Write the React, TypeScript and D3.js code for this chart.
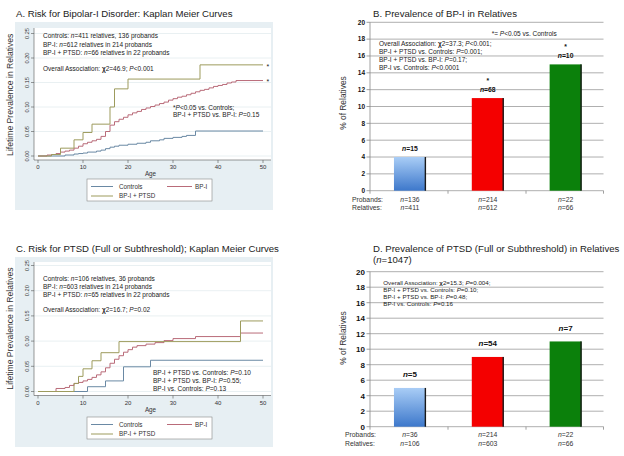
import React from 'react';
import * as d3 from 'd3';

const FONT = "'Liberation Sans', Arial, Helvetica, sans-serif";

const groups = ['Controls', 'BP-I', 'BP-I + PTSD'];
const groupColors = ['#6a89a4', '#b96b79', '#9d9b5d'];

const ageTicks = [0, 10, 20, 30, 40, 50];
const prevTicks = [0, 0.05, 0.1, 0.15, 0.2, 0.25];

// Panel A: Kaplan-Meier (age, cumulative prevalence)
const kmAControls: [number, number][] = [
  [0, 0], [6, 0.002], [8, 0.004], [9, 0.005], [10, 0.006], [11, 0.008], [13, 0.01], [14, 0.012],
  [15, 0.015], [16, 0.018], [17, 0.02], [18, 0.022], [20, 0.024], [22, 0.026], [24, 0.028],
  [25, 0.031], [27, 0.033], [28, 0.036], [30, 0.038], [32, 0.04], [33, 0.042], [35, 0.051], [50, 0.051],
];
const kmABP: [number, number][] = [
  [0, 0], [2, 0.002], [3, 0.003], [4, 0.005], [5, 0.008], [6, 0.01], [7, 0.012], [8, 0.016],
  [9, 0.02], [10, 0.025], [11, 0.028], [12, 0.031], [13, 0.034], [14, 0.04], [15, 0.05],
  [16, 0.063], [17, 0.07], [18, 0.075], [19, 0.079], [20, 0.084], [21, 0.088], [22, 0.091],
  [23, 0.095], [24, 0.098], [25, 0.101], [26, 0.104], [27, 0.107], [28, 0.11], [29, 0.114],
  [30, 0.117], [31, 0.12], [32, 0.122], [33, 0.125], [34, 0.128], [35, 0.131], [36, 0.134],
  [37, 0.136], [38, 0.139], [39, 0.142], [40, 0.144], [41, 0.146], [42, 0.149], [43, 0.151],
  [44, 0.154], [50, 0.154],
];
const kmABPPTSD: [number, number][] = [
  [0, 0], [3, 0.003], [5, 0.016], [8, 0.033], [10, 0.048], [12, 0.065], [16, 0.1],
  [17, 0.137], [20, 0.157], [36, 0.186], [50, 0.186],
];

// Panel C: Kaplan-Meier
const kmCControls: [number, number][] = [
  [0, 0], [11, 0.0095], [15, 0.021], [19, 0.049], [25, 0.062], [50, 0.062],
];
const kmCBP: [number, number][] = [
  [0, 0], [4, 0.006], [6, 0.008], [7, 0.012], [8, 0.016], [9, 0.018], [10, 0.021], [11, 0.024],
  [12, 0.028], [13, 0.033], [14, 0.039], [15, 0.047], [16, 0.056], [17, 0.064], [18, 0.071],
  [19, 0.078], [20, 0.083], [21, 0.088], [22, 0.091], [24, 0.094], [26, 0.097], [28, 0.101],
  [30, 0.105], [35, 0.109], [45, 0.116], [50, 0.116],
];
const kmCBPPTSD: [number, number][] = [
  [0, 0], [8, 0.016], [9, 0.03], [10, 0.045], [12, 0.061], [14, 0.077], [18, 0.099],
  [45, 0.14], [50, 0.14],
];

// Bar panels
const barTicks = [0, 2, 4, 6, 8, 10, 12, 14, 16, 18, 20];
const barBValues = [4, 11, 15];
const barBCounts = ['n=15', 'n=68', 'n=10'];
const barBStars = ['', '*', '*'];
const barBProbands = ['n=136', 'n=214', 'n=22'];
const barBRelatives = ['n=411', 'n=612', 'n=66'];
const barDValues = [5, 9, 11];
const barDCounts = ['n=5', 'n=54', 'n=7'];
const barDStars = ['', '', ''];
const barDProbands = ['n=36', 'n=214', 'n=22'];
const barDRelatives = ['n=106', 'n=603', 'n=66'];

type Note = { x: number; y: number; text: string; size?: number; anchor?: string; weight?: string };

function Rich({ x, y, text, size = 6.5, anchor = 'start', weight = 'normal', fill = '#222' }: any) {
  const parts = text.split(/(\bn(?==)|\bP(?=[=<])|χ)/).filter((p: string) => p !== '');
  return (
    <text x={x} y={y} fontSize={size} fontFamily={FONT} textAnchor={anchor} fontWeight={weight} fill={fill} style={{ whiteSpace: 'pre' }}>
      {parts.map((p: string, i: number) =>
        p === 'n' || p === 'P' ? (
          <tspan key={i} fontStyle="italic">{p}</tspan>
        ) : p === 'χ' ? (
          <tspan key={i} fontWeight="bold">{p}</tspan>
        ) : (
          <tspan key={i}>{p}</tspan>
        )
      )}
    </text>
  );
}

function KMPanel({ title, titleY, bgTop, bgBottom, plotTop, axisY, y0, y1, legendTop, series, notes }: any) {
  const x = d3.scaleLinear().domain([0, 50]).range([38, 263]);
  const y = d3.scaleLinear().domain([0, 0.25]).range([y0, y1]);
  const line = d3.line<[number, number]>().x((d) => x(d[0])).y((d) => y(d[1])).curve(d3.curveStepAfter);
  const fmt = d3.format('.2f');
  const lx = 34;
  const rx = 271;
  return (
    <g>
      <text x={16} y={titleY} fontSize={9.6} fontFamily={FONT} fill="#222">{title}</text>
      <rect x={15} y={bgTop} width={258} height={bgBottom - bgTop} fill="#e7eff3" />
      <rect x={lx} y={plotTop} width={rx - lx} height={axisY - plotTop} fill="#fff" />
      {prevTicks.map((t) => (
        <line key={t} x1={lx} x2={rx} y1={y(t)} y2={y(t)} stroke="#e3ecef" strokeWidth={0.8} />
      ))}
      <line x1={lx} x2={lx} y1={plotTop} y2={axisY} stroke="#555" strokeWidth={0.6} />
      <line x1={lx} x2={rx} y1={axisY} y2={axisY} stroke="#555" strokeWidth={0.6} />
      {prevTicks.map((t) => (
        <g key={t}>
          <line x1={lx - 3} x2={lx} y1={y(t)} y2={y(t)} stroke="#555" strokeWidth={0.6} />
          <text transform={`translate(28.5,${y(t)}) rotate(-90)`} fontSize={5.6} fontFamily={FONT} textAnchor="middle" fill="#333">{fmt(t)}</text>
        </g>
      ))}
      {ageTicks.map((t) => (
        <g key={t}>
          <line x1={x(t)} x2={x(t)} y1={axisY} y2={axisY + 3} stroke="#555" strokeWidth={0.6} />
          <text x={x(t)} y={axisY + 9} fontSize={6} fontFamily={FONT} textAnchor="middle" fill="#333">{t}</text>
        </g>
      ))}
      <text x={(x(0) + x(50)) / 2} y={axisY + 16} fontSize={6.3} fontFamily={FONT} textAnchor="middle" fill="#333">Age</text>
      <text transform={`translate(12.5,${(y0 + y1) / 2}) rotate(-90)`} fontSize={8.6} fontFamily={FONT} textAnchor="middle" fill="#333">Lifetime Prevalence in Relatives</text>
      {series.map((s: [number, number][], i: number) => (
        <path key={i} d={line(s) || ''} fill="none" stroke={groupColors[i]} strokeWidth={1} />
      ))}
      <rect x={87} y={legendTop} width={125} height={22} fill="#fff" stroke="#888" strokeWidth={0.6} />
      {[[0, 91, 0], [1, 167, 0], [2, 91, 1]].map(([gi, lx0, row]) => (
        <g key={gi}>
          <line x1={lx0} x2={lx0 + (gi === 1 ? 25 : 22)} y1={legendTop + 7.5 + row * 9.5} y2={legendTop + 7.5 + row * 9.5} stroke={groupColors[gi]} strokeWidth={1} />
          <text x={lx0 + 28} y={legendTop + 9.8 + row * 9.5} fontSize={6.3} fontFamily={FONT} fill="#333">{groups[gi]}</text>
        </g>
      ))}
      {notes.map((n: Note, i: number) => (
        <Rich key={i} {...n} />
      ))}
    </g>
  );
}

function BarPanel({ title, titleY, y0, y1, values, counts, stars, probands, relatives, notes, tickSize, countSize, countGap, probX, probY, yTitleY, gradId }: any) {
  const y = d3.scaleLinear().domain([0, 20]).range([y0, y1]);
  const x = d3.scaleBand<string>().domain(groups).range([370, 603.5]).padding(0);
  const bw = x.bandwidth() * 0.41;
  const fills = [`url(#${gradId})`, '#f40000', '#0b800b'];
  return (
    <g>
      {title.map((t: string, i: number) => (
        <Rich key={i} x={373} y={titleY + i * 11.5} text={t} size={9.6} />
      ))}
      {barTicks.map((t) => (
        <g key={t}>
          <line x1={370} x2={603.5} y1={y(t)} y2={y(t)} stroke="#9a9a9a" strokeWidth={0.8} />
          <line x1={366.5} x2={370} y1={y(t)} y2={y(t)} stroke="#888" strokeWidth={0.8} />
          <text x={365} y={y(t) + tickSize * 0.36} fontSize={tickSize} fontWeight="bold" fontFamily={FONT} textAnchor="end" fill="#111">{t}</text>
        </g>
      ))}
      <line x1={370} x2={370} y1={y1} y2={y0} stroke="#888" strokeWidth={0.8} />
      {[370, 448, 526, 603.5].map((v) => (
        <line key={v} x1={v} x2={v} y1={y0} y2={y0 + 3} stroke="#888" strokeWidth={0.8} />
      ))}
      <text transform={`translate(346,${yTitleY}) rotate(-90)`} fontSize={8.4} fontFamily={FONT} textAnchor="middle" fill="#333">% of Relatives</text>
      {groups.map((g, i) => {
        const cx = (x(g) as number) + x.bandwidth() / 2 + 1;
        const top = y(values[i]);
        return (
          <g key={g}>
            <rect x={cx - bw / 2} y={top} width={bw} height={y0 - top} fill={fills[i]} />
            <rect x={cx + bw / 2 - 1.2} y={top} width={1.4} height={y0 - top} fill="#1a1a1a" />
            <Rich x={cx} y={top - countGap} text={counts[i]} size={countSize} anchor="middle" weight="bold" fill="#111" />
            {stars[i] && (
              <text x={cx} y={top - countGap - 8.5} fontSize={countSize} fontWeight="bold" fontFamily={FONT} textAnchor="middle" fill="#111">{stars[i]}</text>
            )}
            <Rich x={cx} y={probY} text={probands[i]} size={6.8} anchor="middle" fill="#333" />
            <Rich x={cx} y={probY + 8.2} text={relatives[i]} size={6.8} anchor="middle" fill="#333" />
          </g>
        );
      })}
      <text x={probX} y={probY} fontSize={6.8} fontFamily={FONT} fill="#333">Probands:</text>
      <text x={probX} y={probY + 8.2} fontSize={6.8} fontFamily={FONT} fill="#333">Relatives:</text>
      {notes.map((n: Note, i: number) => (
        <Rich key={i} {...n} />
      ))}
    </g>
  );
}

export default function App() {
  return (
    <svg width={624} height={456} style={{ position: 'absolute', left: 0, top: 0, background: '#fff' }} xmlns="http://www.w3.org/2000/svg">
      <defs>
        <linearGradient id="blueGradB" x1="0" y1="0" x2="0" y2="1">
          <stop offset="0" stopColor="#a9cdf6" />
          <stop offset="1" stopColor="#3d78cb" />
        </linearGradient>
        <linearGradient id="blueGradD" x1="0" y1="0" x2="0" y2="1">
          <stop offset="0" stopColor="#a9cdf6" />
          <stop offset="1" stopColor="#3d78cb" />
        </linearGradient>
      </defs>
      <rect x={0} y={0} width={624} height={456} fill="#fff" />
      <KMPanel
        title="A. Risk for Bipolar-I Disorder: Kaplan Meier Curves"
        titleY={16.5}
        bgTop={22}
        bgBottom={210}
        plotTop={28}
        axisY={160}
        y0={156}
        y1={33.5}
        legendTop={179}
        series={[kmAControls, kmABP, kmABPPTSD]}
        notes={[
          { x: 43, y: 38, text: 'Controls: n=411 relatives, 136 probands' },
          { x: 43, y: 46.5, text: 'BP-I: n=612 relatives in 214 probands' },
          { x: 43, y: 55, text: 'BP-I + PTSD: n=66 relatives in 22 probands' },
          { x: 43, y: 70.6, text: 'Overall Association: χ2=46.9; P<0.001' },
          { x: 173, y: 109.6, text: '*P<0.05 vs. Controls;' },
          { x: 173, y: 117.4, text: 'BP-I + PTSD vs. BP-I: P=0.15' },
          { x: 266.5, y: 68.5, text: '*', size: 7 },
          { x: 266.5, y: 84, text: '*', size: 7 },
        ]}
      />
      <KMPanel
        title="C. Risk for PTSD (Full or Subthreshold); Kaplan Meier Curves"
        titleY={251.5}
        bgTop={257}
        bgBottom={447}
        plotTop={262}
        axisY={395.5}
        y0={391.5}
        y1={265.5}
        legendTop={417}
        series={[kmCControls, kmCBP, kmCBPPTSD]}
        notes={[
          { x: 43, y: 280.6, text: 'Controls: n=106 relatives, 36 probands' },
          { x: 43, y: 289, text: 'BP-I: n=603 relatives in 214 probands' },
          { x: 43, y: 297.3, text: 'BP-I + PTSD: n=65 relatives in 22 probands' },
          { x: 43, y: 312.3, text: 'Overall Association: χ2=16.7; P=0.02' },
          { x: 153, y: 374.6, text: 'BP-I + PTSD vs. Controls: P=0.10' },
          { x: 153, y: 382.6, text: 'BP-I + PTSD vs. BP-I: P=0.55;' },
          { x: 153, y: 390.6, text: 'BP-I vs. Controls: P=0.13' },
        ]}
      />
      <BarPanel
        title={['B. Prevalence of BP-I in Relatives']}
        titleY={16.5}
        y0={190.7}
        y1={22.3}
        values={barBValues}
        counts={barBCounts}
        stars={barBStars}
        probands={barBProbands}
        relatives={barBRelatives}
        tickSize={6.5}
        countSize={6.8}
        countGap={6.5}
        probX={352}
        probY={201.6}
        yTitleY={103}
        gradId="blueGradB"
        notes={[
          { x: 491.7, y: 35.6, text: '*= P<0.05 vs. Controls' },
          { x: 379, y: 45.6, text: 'Overall Association: χ2=37.3; P<0.001;' },
          { x: 379, y: 54, text: 'BP-I + PTSD vs. Controls: P=0.001;' },
          { x: 379, y: 62.3, text: 'BP-I + PTSD vs. BP-I: P=0.17;' },
          { x: 379, y: 70, text: 'BP-I vs. Controls: P<0.0001' },
        ]}
      />
      <BarPanel
        title={['D. Prevalence of PTSD (Full or Subthreshold) in Relatives', '(n=1047)']}
        titleY={251.5}
        y0={426.7}
        y1={271.7}
        values={barDValues}
        counts={barDCounts}
        stars={barDStars}
        probands={barDProbands}
        relatives={barDRelatives}
        tickSize={8}
        countSize={8}
        countGap={10.5}
        probX={345}
        probY={437.4}
        yTitleY={338}
        gradId="blueGradD"
        notes={[
          { x: 383.3, y: 285, text: 'Overall Association: χ2=15.3; P=0.004;', size: 6.2 },
          { x: 383.3, y: 292.3, text: 'BP-I + PTSD vs. Controls: P=0.10;', size: 6.2 },
          { x: 383.3, y: 299, text: 'BP-I + PTSD vs. BP-I: P=0.48;', size: 6.2 },
          { x: 383.3, y: 306.3, text: 'BP-I vs. Controls: P=0.16', size: 6.2 },
        ]}
      />
    </svg>
  );
}
